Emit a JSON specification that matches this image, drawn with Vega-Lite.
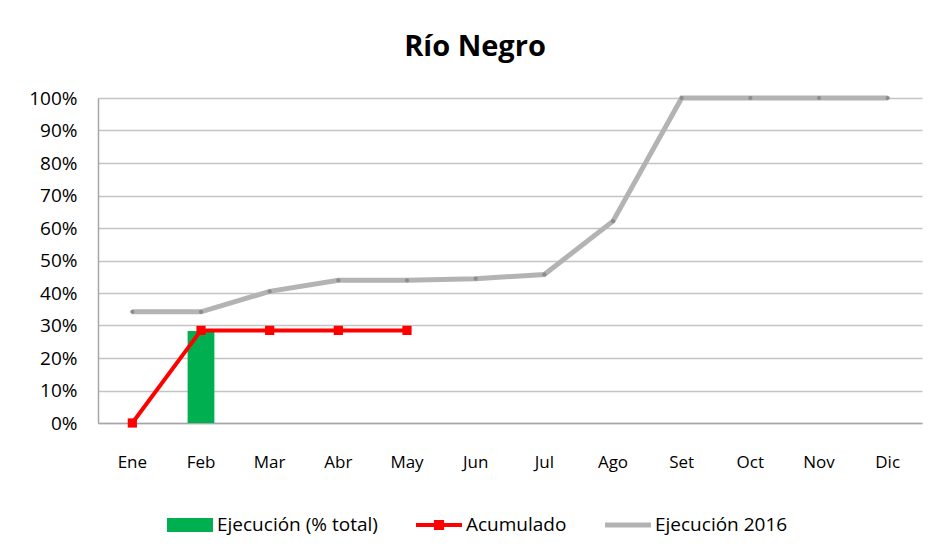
{
  "$schema": "https://vega.github.io/schema/vega-lite/v6.json",
  "autosize": {"type": "none"},
  "width": 824,
  "height": 325,
  "padding": {"left": 98, "top": 98, "right": 28, "bottom": 136},
  "background": "white",
  "config": {
    "font": "Open Sans",
    "view": {"stroke": null},
    "axisY": {
      "title": null,
      "labelFont": "Open Sans",
      "labelFontSize": 19,
      "labelColor": "#000000",
      "labelPadding": 21,
      "labelOverlap": false,
      "ticks": false,
      "domainColor": "#a6a6a6",
      "domainWidth": 1.5,
      "gridColor": "#c4c4c4",
      "gridWidth": 1.5
    }
  },
  "title": {
    "text": "Río Negro",
    "font": "Open Sans",
    "fontSize": 29,
    "fontWeight": "bold",
    "color": "#000000",
    "anchor": "middle",
    "dx": -35,
    "offset": 26
  },
  "data": {
    "values": [
      {"mes": "Ene", "ejec": null, "acum": 0, "ej2016": 34.2},
      {"mes": "Feb", "ejec": 28.3, "acum": 28.5, "ej2016": 34.2},
      {"mes": "Mar", "ejec": null, "acum": 28.5, "ej2016": 40.5},
      {"mes": "Abr", "ejec": null, "acum": 28.5, "ej2016": 43.9},
      {"mes": "May", "ejec": null, "acum": 28.5, "ej2016": 43.9},
      {"mes": "Jun", "ejec": null, "acum": null, "ej2016": 44.4},
      {"mes": "Jul", "ejec": null, "acum": null, "ej2016": 45.7},
      {"mes": "Ago", "ejec": null, "acum": null, "ej2016": 62.1},
      {"mes": "Set", "ejec": null, "acum": null, "ej2016": 100},
      {"mes": "Oct", "ejec": null, "acum": null, "ej2016": 100},
      {"mes": "Nov", "ejec": null, "acum": null, "ej2016": 100},
      {"mes": "Dic", "ejec": null, "acum": null, "ej2016": 100}
    ]
  },
  "encoding": {
    "x": {
      "field": "mes",
      "type": "ordinal",
      "sort": ["Ene", "Feb", "Mar", "Abr", "May", "Jun", "Jul", "Ago", "Set", "Oct", "Nov", "Dic"],
      "scale": {"domain": ["Ene", "Feb", "Mar", "Abr", "May", "Jun", "Jul", "Ago", "Set", "Oct", "Nov", "Dic"], "paddingInner": 0, "paddingOuter": 0},
      "axis": {
        "title": null,
        "labelAngle": 0,
        "labelFont": "Open Sans",
        "labelFontSize": 17,
        "labelColor": "#000000",
        "labelPadding": 31,
        "ticks": false,
        "domainColor": "#a6a6a6",
        "domainWidth": 1.5,
        "grid": false
      }
    }
  },
  "layer": [
    {
      "mark": {"type": "bar", "width": {"band": 0.39}},
      "encoding": {
        "y": {
          "field": "ejec",
          "type": "quantitative",
          "scale": {"domain": [0, 100], "nice": false},
          "axis": {
            "values": [0, 10, 20, 30, 40, 50, 60, 70, 80, 90, 100],
            "labelExpr": "datum.value + '%'"
          }
        },
        "color": {
          "datum": "Ejecución (% total)",
          "scale": {
            "domain": ["Ejecución (% total)", "Acumulado", "Ejecución 2016"],
            "range": ["#00b050", "#ff0000", "#b3b3b3"]
          },
          "legend": {
            "title": null,
            "orient": "none",
            "direction": "horizontal",
            "columns": 3,
            "legendX": 69,
            "legendY": 404,
            "padding": 0,
            "columnPadding": 38,
            "labelOffset": 4,
            "labelFont": "Open Sans",
            "labelFontSize": 19,
            "labelColor": "#000000",
            "labelLimit": 400,
            "symbolSize": 2116,
            "encode": {
              "symbols": {
                "update": {
                  "shape": {"signal": "datum.value === 'Ejecución (% total)' ? 'M-1,-0.3H1V0.3H-1Z' : datum.value === 'Acumulado' ? 'M-1,-0.09H1V0.09H-1Z M-0.22,-0.22H0.22V0.22H-0.22Z' : 'M-1,-0.11H1V0.11H-1Z'"},
                  "fill": {"signal": "datum.value === 'Ejecución (% total)' ? '#00b050' : datum.value === 'Acumulado' ? '#ff0000' : '#bfbfbf'"},
                  "stroke": {"value": "transparent"},
                  "strokeWidth": {"value": 0},
                  "opacity": {"value": 1},
                  "fillOpacity": {"value": 1},
                  "size": {"value": 2116}
                }
              }
            }
          }
        }
      }
    },
    {
      "mark": {"type": "line", "strokeWidth": 4},
      "encoding": {
        "y": {
          "field": "acum",
          "type": "quantitative",
          "axis": {
            "values": [0, 10, 20, 30, 40, 50, 60, 70, 80, 90, 100],
            "labelExpr": "datum.value + '%'"
          }
        },
        "color": {"datum": "Acumulado"}
      }
    },
    {
      "mark": {"type": "point", "shape": "square", "filled": true, "size": 85, "opacity": 1, "color": "#ff0000"},
      "encoding": {
        "y": {
          "field": "acum",
          "type": "quantitative",
          "axis": {
            "values": [0, 10, 20, 30, 40, 50, 60, 70, 80, 90, 100],
            "labelExpr": "datum.value + '%'"
          }
        }
      }
    },
    {
      "mark": {"type": "line", "strokeWidth": 5},
      "encoding": {
        "y": {
          "field": "ej2016",
          "type": "quantitative",
          "axis": {
            "values": [0, 10, 20, 30, 40, 50, 60, 70, 80, 90, 100],
            "labelExpr": "datum.value + '%'"
          }
        },
        "color": {"datum": "Ejecución 2016"}
      }
    },
    {
      "mark": {"type": "point", "shape": "circle", "filled": true, "size": 18, "opacity": 1, "color": "#8c8c8c"},
      "encoding": {
        "y": {
          "field": "ej2016",
          "type": "quantitative",
          "axis": {
            "values": [0, 10, 20, 30, 40, 50, 60, 70, 80, 90, 100],
            "labelExpr": "datum.value + '%'"
          }
        }
      }
    }
  ]
}
